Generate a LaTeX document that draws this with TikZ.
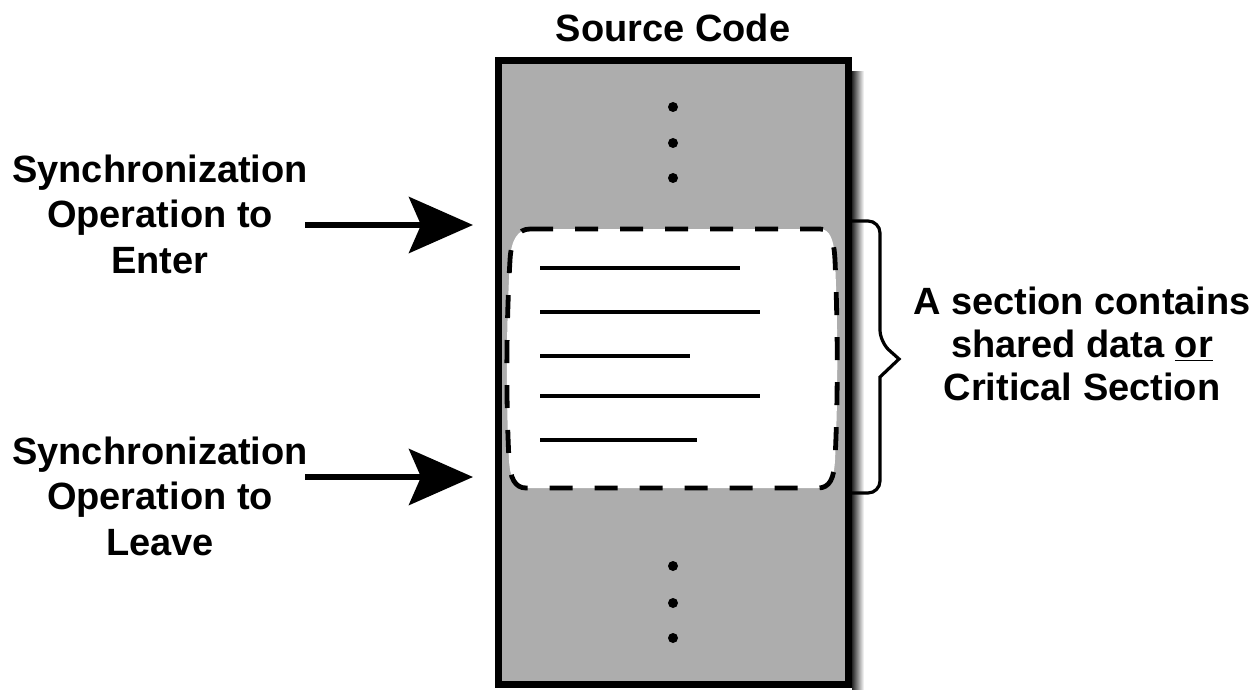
\documentclass[tikz,border=0pt]{standalone}
\usepackage{fontspec}
\setmainfont{Liberation Sans}
\usetikzlibrary{arrows.meta}
\definecolor{boxgray}{RGB}{173,173,173}
\begin{document}
\begin{tikzpicture}[x=0.5pt,y=-0.5pt,
  lbl/.style={font=\fontsize{19}{22.75}\selectfont\bfseries, align=center, inner sep=0pt},
  bigarrow/.style={line width=3pt, -{Stealth[length=32pt,width=28pt,inset=6pt]}},
  codeline/.style={line width=2pt},
  codedot/.style={fill=black},
  region/.style={fill=white, line width=2.4pt, dash pattern=on 11.5pt off 11pt},
  bracestyle/.style={line width=1.6pt}]
\useasboundingbox (0,0) rectangle (1259,690);
% shadow
\shade[left color=black!85, right color=white] (852,72) rectangle (864,690);
% main box
\node[draw, line width=3.5pt, fill=boxgray, minimum width=175pt, minimum height=311.5pt, inner sep=0pt] (box) at (673.5,372.5) {};
% dots
\foreach \yy in {107,143,178,566,603,638}
  \fill[codedot] (673,\yy) circle (2.5pt);
% critical region
\draw[region] (530,229) -- (820,229) .. controls (830,229) and (834,240) .. (835,260)
  .. controls (838,330) and (838,400) .. (835,460)
  .. controls (834,478) and (830,488) .. (818,488) -- (526,488)
  .. controls (515,488) and (510,478) .. (509,460)
  .. controls (506,400) and (506,330) .. (510,260)
  .. controls (511,240) and (518,229) .. (530,229) -- cycle;
% code lines
\draw[codeline] (540,268) -- (740,268);
\draw[codeline] (540,312) -- (760,312);
\draw[codeline] (540,356) -- (690,356);
\draw[codeline] (540,396) -- (760,396);
\draw[codeline] (540,440) -- (697,440);
% brace
\draw[bracestyle, rounded corners=6pt] (852,221) -- (880,221) -- (880,342) [sharp corners] -- (899,359) -- (880,377) [rounded corners=6pt] -- (880,493) -- (852,493);
% texts
\node[lbl] (title) at (673,28) {Source Code};
\node[lbl] (enter) at (160,214) {Synchronization\\Operation to\\Enter};
\node[lbl] (leave) at (160,496) {Synchronization\\Operation to\\Leave};
\node[lbl, font=\fontsize{19}{21.5}\selectfont\bfseries] (crit) at (1082,344) {A section contains\\shared data \underline{or}\\Critical Section};
% arrows
\coordinate (a1s) at (305,225);
\coordinate (a1e) at (473,225);
\coordinate (a2s) at (305,477);
\coordinate (a2e) at (473,477);
\draw[bigarrow] (a1s) -- (a1e);
\draw[bigarrow] (a2s) -- (a2e);
\end{tikzpicture}
\end{document}
